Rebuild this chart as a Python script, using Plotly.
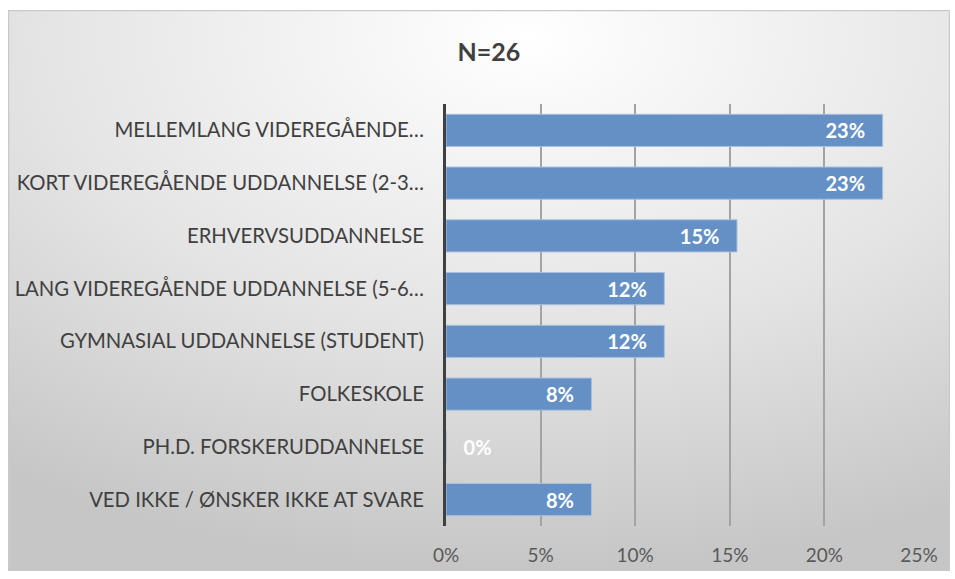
import plotly.graph_objects as go
import urllib.parse

categories = [
    "MELLEMLANG VIDEREGÅENDE…",
    "KORT VIDEREGÅENDE UDDANNELSE (2-3…",
    "ERHVERVSUDDANNELSE",
    "LANG VIDEREGÅENDE UDDANNELSE (5-6…",
    "GYMNASIAL UDDANNELSE (STUDENT)",
    "FOLKESKOLE",
    "PH.D. FORSKERUDDANNELSE",
    "VED IKKE / ØNSKER IKKE AT SVARE",
]
shares = [0.2308, 0.2308, 0.1538, 0.1154, 0.1154, 0.0769, 0.0, 0.0769]
tick_vals = [0, 0.05, 0.10, 0.15, 0.20, 0.25]
tick_text = ["0%", "5%", "10%", "15%", "20%", "25%"]
title_text = "N=26"

W, H = 955, 579
L, R, T, B = 446, 36, 104, 53
pw, ph = W - L - R, H - T - B

svg = (
    '<svg xmlns="http://www.w3.org/2000/svg" width="942" height="561" viewBox="0 0 942 561" preserveAspectRatio="none">'
    '<defs><radialGradient id="g" cx="55%" cy="5%" r="95%" fx="55%" fy="5%">'
    '<stop offset="0" stop-color="#ffffff"/><stop offset="0.55" stop-color="#e4e4e4"/>'
    '<stop offset="1" stop-color="#c6c6c6"/></radialGradient></defs>'
    '<rect x="0.5" y="0.5" width="941" height="560" fill="url(#g)" stroke="#c9c9c9" stroke-width="1.5"/></svg>'
)
src = "data:image/svg+xml;charset=utf-8," + urllib.parse.quote(svg)

def px_x(v):
    return (v - L) / pw

def px_y(v):
    return (H - B - v) / ph

positions = ["inside" if v > 0 else "outside" for v in shares]
templates = ["%{x:.0%}\u00a0\u00a0\u00a0" if v > 0 else "\u00a0\u00a0\u00a0%{x:.0%}" for v in shares]

fig = go.Figure()
fig.add_trace(go.Bar(
    x=shares, y=categories, orientation="h",
    marker=dict(color="#6590c5", line=dict(color="#a9c0de", width=1)),
    texttemplate=templates, textposition=positions,
    insidetextanchor="end", constraintext="none",
    textfont=dict(color="white", size=20, family="Lato", weight="bold"),
    outsidetextfont=dict(color="white", size=20, family="Lato", weight="bold"),
    cliponaxis=False,
    hoverinfo="skip",
))

fig.update_layout(
    width=W, height=H,
    margin=dict(l=L, r=R, t=T, b=B),
    paper_bgcolor="white", plot_bgcolor="rgba(0,0,0,0)",
    bargap=0.39,
    showlegend=False,
    font=dict(family="Lato", color="#404040"),
    title=dict(text=title_text, x=px_x(489), xanchor="center", xref="paper",
               y=1 - 52 / H, yanchor="middle",
               font=dict(size=25, family="Lato", color="#404040", weight="bold")),
    xaxis=dict(range=[0, 0.25], tickvals=tick_vals, ticktext=tick_text,
               showgrid=True, gridcolor="#a3a3a3", gridwidth=1.5,
               zeroline=False, showline=False, ticks="",
               tickfont=dict(size=19, color="#595959", family="Lato"),
               ticklabelstandoff=16, fixedrange=True),
    yaxis=dict(categoryorder="array", categoryarray=categories, autorange="reversed",
               showline=True, linecolor="#404040", linewidth=3,
               showgrid=False, ticks="", ticklabelstandoff=15,
               tickfont=dict(size=20.3, color="#404040", family="Lato"),
               fixedrange=True),
    images=[dict(source=src, xref="paper", yref="paper",
                 x=px_x(8), y=px_y(10), sizex=px_x(950) - px_x(8), sizey=px_y(10) - px_y(571),
                 xanchor="left", yanchor="top", sizing="stretch", layer="below")],
)

fig.write_html("out.html", config={"displayModeBar": False},
               post_script="document.body.style.margin='0';document.body.style.overflow='hidden';")
